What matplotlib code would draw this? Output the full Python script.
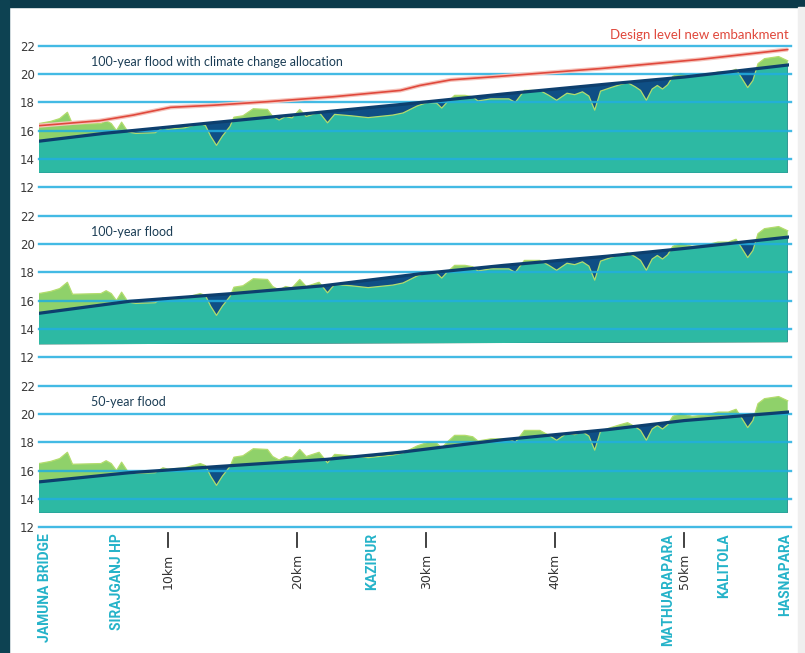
import numpy as np
import matplotlib.pyplot as plt
from matplotlib.patches import Polygon, Rectangle
from matplotlib.transforms import blended_transform_factory

# ground profile along the river (km, level m)
ground_km = [0, 0.9, 1.6, 2.2, 2.6, 4.8, 5.2, 5.6, 6.0, 6.4, 6.9, 7.5, 9.0, 9.6, 10.0,
             11.3, 12.5, 12.9, 13.3, 13.75, 14.2, 14.8, 15.1, 15.8, 16.6, 17.7, 18.1,
             18.6, 19.1, 19.6, 20.2, 20.7, 21.7, 22.35, 22.9, 24.2, 25.5, 27.4, 28.2,
             29.3, 30.1, 30.8, 31.2, 31.6, 32.2, 33.0, 33.6, 34.0, 35.0, 36.4, 36.9,
             37.6, 38.8, 39.5, 40.1, 40.9, 41.5, 42.1, 42.6, 43.05, 43.5, 44.3, 45.0,
             45.6, 46.2, 46.6, 47.05, 47.5, 47.9, 48.3, 48.7, 49.1, 49.7, 50.6, 51.7,
             52.6, 53.4, 54.0, 54.35, 54.9, 55.3, 55.7, 56.2, 57.3, 58.0]
ground_lvl = [16.5, 16.65, 16.85, 17.3, 16.45, 16.5, 16.7, 16.5, 16.0, 16.6, 15.9, 15.8,
              15.85, 16.2, 16.1, 16.2, 16.5, 16.35, 15.6, 14.95, 15.6, 16.3, 16.95, 17.05,
              17.55, 17.5, 17.0, 16.75, 17.0, 16.9, 17.5, 17.0, 17.3, 16.55, 17.15, 17.05,
              16.92, 17.1, 17.25, 17.75, 18.0, 17.95, 17.6, 18.0, 18.5, 18.5, 18.4, 18.1,
              18.25, 18.25, 18.0, 18.85, 18.85, 18.5, 18.15, 18.65, 18.55, 18.75, 18.45,
              17.45, 18.8, 19.05, 19.25, 19.4, 19.1, 18.85, 18.15, 18.95, 19.2, 18.95,
              19.25, 19.85, 20.05, 19.85, 19.95, 20.15, 20.15, 20.35, 19.85, 19.05, 19.55,
              20.75, 21.1, 21.25, 20.95]

# flood levels per panel
flood_km = [[0, 5, 15, 28, 36, 44, 50, 58],
            [0, 7, 15, 22, 29.5, 36, 44, 50, 58],
            [0, 7, 14, 22.3, 28, 36, 44, 50, 58]]
flood_lvl = [[15.25, 15.8, 16.7, 17.85, 18.6, 19.3, 19.8, 20.65],
             [15.1, 15.95, 16.5, 17.05, 17.9, 18.5, 19.15, 19.7, 20.5],
             [15.2, 15.85, 16.3, 16.8, 17.3, 18.2, 18.9, 19.55, 20.15]]
panel_titles = ["100-year flood with climate change allocation",
                "100-year flood", "50-year flood"]
base_lvl = [(13.0, 13.0), (12.9, 13.05), (13.0, 13.0)]

# design level new embankment (top panel only)
design_km = [0, 4.7, 7.3, 10.2, 13.5, 17.7, 22.8, 28, 29.5, 31.9, 35.7, 43.5, 51.2, 58]
design_lvl = [16.35, 16.7, 17.1, 17.65, 17.8, 18.05, 18.4, 18.85, 19.2, 19.6, 19.85,
              20.4, 21.05, 21.75]

place_names = ["JAMUNA BRIDGE", "SIRAJGANJ HP", "KAZIPUR", "MATHUARAPARA", "KALITOLA", "HASNAPARA"]
place_km = [0.47, 6.05, 25.8, 48.7, 53.1, 57.8]
km_marks = [10, 20, 30, 40, 50]
y_ticks = [12, 14, 16, 18, 20, 22]

teal = "#2db9a3"
green = "#8fd16a"
navy_fill = "#0f4f85"
navy_line = "#0d3f6e"
grid_col = "#22aee0"
cyan_text = "#25b3c9"

fig = plt.figure(figsize=(8.05, 6.53), dpi=100)
fig.patch.set_facecolor("white")

# frame bands
fig.add_artist(Rectangle((0, 1 - 7 / 653), 1, 7 / 653, transform=fig.transFigure,
                         color="#0b3a4a", zorder=0))
fig.add_artist(Rectangle((0, 0), 9 / 805, 1, transform=fig.transFigure,
                         color="#0d4252", zorder=0))
fig.add_artist(Rectangle((798 / 805, 0), 7 / 805, 1 - 7 / 653, transform=fig.transFigure,
                         color="#efefef", zorder=0))

bottoms = [1 - 187 / 653, 1 - 357 / 653, 1 - 527 / 653]
axes = []
for i in range(3):
    ax = fig.add_axes([39 / 805, bottoms[i], 750 / 805, 141 / 653])
    ax.set_xlim(0, 58.1)
    ax.set_ylim(12, 22)
    ax.patch.set_alpha(0)
    for s in ax.spines.values():
        s.set_visible(False)
    ax.set_xticks([])
    ax.set_yticks(y_ticks)
    ax.tick_params(axis="y", length=0, pad=3, labelsize=8.5, labelcolor="#3a3a3a")

    b0, b1 = base_lvl[i]
    ground_poly = list(zip(ground_km, ground_lvl)) + [(ground_km[-1], b1), (ground_km[0], b0)]
    flood_poly = list(zip(flood_km[i], flood_lvl[i])) + [(flood_km[i][-1], b1), (flood_km[i][0], b0)]

    green_patch = Polygon(ground_poly, closed=True, facecolor=green, edgecolor="none", zorder=1)
    ax.add_patch(green_patch)
    flood_patch = Polygon(flood_poly, closed=True, facecolor=navy_fill, edgecolor="none", zorder=2)
    ax.add_patch(flood_patch)
    teal_patch = Polygon(ground_poly, closed=True, facecolor=teal, edgecolor="none", zorder=3)
    ax.add_patch(teal_patch)
    teal_patch.set_clip_path(flood_patch)

    ax.plot(ground_km, ground_lvl, color="#b3dc6c", lw=0.9, zorder=3.5)
    for y in y_ticks:
        ax.axhline(y, xmin=0, xmax=1.002, color=grid_col, lw=1.7, alpha=0.85,
                   zorder=4, clip_on=False)
    ax.plot(flood_km[i], flood_lvl[i], color=navy_line, lw=2.3, zorder=5)

    ax.text(4.0, 20.9, panel_titles[i], fontsize=9, family="Lato",
            color="#1b3d55", va="center", ha="left", zorder=6)
    axes.append(ax)

ax1 = axes[0]
ax1.plot(design_km, design_lvl, color="#f5c3bb", lw=3.0, zorder=6, solid_capstyle="butt")
ax1.plot(design_km, design_lvl, color="#e0483c", lw=1.2, zorder=7)
ax1.text(58.05, 22.8, "Design level new embankment", fontsize=9.5, family="Lato",
         color="#e0483c", ha="right", va="center", clip_on=False)

# x-axis markers below bottom panel
ax3 = axes[2]
tr = blended_transform_factory(ax3.transData, fig.transFigure)
for name, k in zip(place_names, place_km):
    ax3.text(k, 1 - 533 / 653, name, rotation=90, transform=tr, ha="center", va="top",
             fontsize=10, fontweight="bold", family="Roboto", color=cyan_text, clip_on=False)
for k in km_marks:
    ax3.plot([k, k], [1 - 533 / 653, 1 - 547 / 653], transform=tr, color="#333333",
             lw=1.3, clip_on=False)
    ax3.text(k, 1 - 554 / 653, f"{k}km", rotation=90, transform=tr, ha="center", va="top",
             fontsize=9, color="#333333", clip_on=False)

fig.savefig("out.png", dpi=100, facecolor=fig.get_facecolor())
